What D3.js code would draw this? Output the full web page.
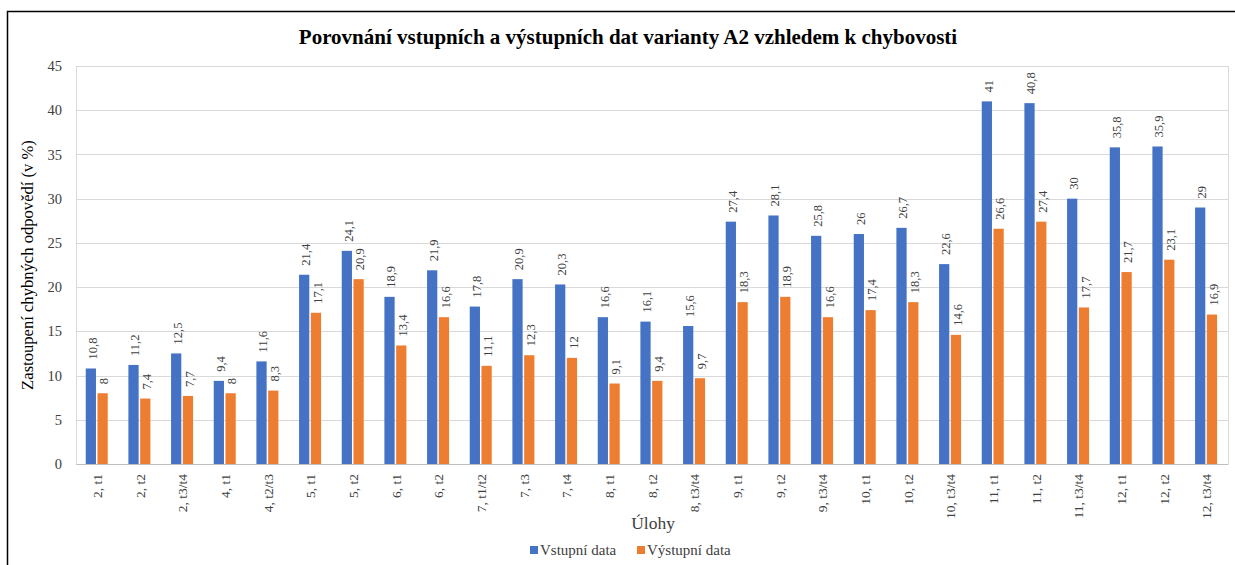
<!DOCTYPE html>
<html>
<head>
<meta charset="utf-8">
<script src="https://cdn.jsdelivr.net/npm/d3@7"></script>
<style>
  body { margin: 0; background: #fff; }
  text { font-family: "Liberation Serif", "Times New Roman", serif; fill: #404040; }
</style>
</head>
<body>
<script>
"use strict"

var categories = ["2, t1", "2, t2", "2, t3/t4", "4, t1", "4, t2/t3", "5, t1", "5, t2", "6, t1", "6, t2",
    "7, t1/t2", "7, t3", "7, t4", "8, t1", "8, t2", "8, t3/t4", "9, t1", "9, t2", "9, t3/t4",
    "10, t1", "10, t2", "10, t3/t4", "11, t1", "11, t2", "11, t3/t4", "12, t1", "12, t2", "12, t3/t4"];
var vstupni = [10.8, 11.2, 12.5, 9.4, 11.6, 21.4, 24.1, 18.9, 21.9, 17.8, 20.9, 20.3, 16.6, 16.1, 15.6,
    27.4, 28.1, 25.8, 26, 26.7, 22.6, 41, 40.8, 30, 35.8, 35.9, 29];
var vystupni = [8, 7.4, 7.7, 8, 8.3, 17.1, 20.9, 13.4, 16.6, 11.1, 12.3, 12, 9.1, 9.4, 9.7,
    18.3, 18.9, 16.6, 17.4, 18.3, 14.6, 26.6, 27.4, 17.7, 21.7, 23.1, 16.9];
var seriesNames = ["Vstupní data", "Výstupní data"];
var colors = ["#4472C4", "#ED7D31"];
var yTicks = [0, 5, 10, 15, 20, 25, 30, 35, 40, 45];

var width = 1235, height = 565;
var plot = {left: 76, right: 1228, top: 66, bottom: 464};

var svg = d3.select("body").append("svg")
    .attr("width", width)
    .attr("height", height);

// outer frame
svg.append("rect")
    .attr("x", 7.5).attr("y", 11.5)
    .attr("width", 1240).attr("height", 600)
    .attr("fill", "none").attr("stroke", "#000").attr("stroke-width", 1.5);

svg.append("text")
    .attr("x", 628).attr("y", 44)
    .attr("text-anchor", "middle")
    .attr("font-size", "21px")
    .attr("font-weight", "bold")
    .style("fill", "#000")
    .text("Porovnání vstupních a výstupních dat varianty A2 vzhledem k chybovosti");

var x = d3.scaleBand().domain(categories).range([plot.left, plot.right]);
var y = d3.scaleLinear().domain([0, 45]).range([plot.bottom, plot.top]);

// gridlines
svg.append("g").selectAll("line").data(yTicks).join("line")
    .attr("x1", plot.left).attr("x2", plot.right)
    .attr("y1", d => Math.round(y(d)) + 0.5).attr("y2", d => Math.round(y(d)) + 0.5)
    .attr("stroke", "#d9d9d9").attr("stroke-width", 1);
svg.append("line")
    .attr("x1", plot.left + 0.5).attr("x2", plot.left + 0.5)
    .attr("y1", plot.top).attr("y2", plot.bottom)
    .attr("stroke", "#d9d9d9");
svg.append("line")
    .attr("x1", plot.right + 0.5).attr("x2", plot.right + 0.5)
    .attr("y1", plot.top).attr("y2", plot.bottom)
    .attr("stroke", "#d9d9d9");

// y tick labels
var yAxis = svg.append("g")
    .attr("transform", "translate(" + (plot.left - 6) + ",0)")
    .call(d3.axisLeft(y).tickValues(yTicks).tickSize(0).tickPadding(8));
yAxis.select(".domain").remove();
yAxis.selectAll("text")
    .attr("font-family", "Liberation Serif")
    .attr("font-size", "14.5px")
    .style("fill", "#404040");

// x axis
var xAxis = svg.append("g")
    .attr("transform", "translate(0," + plot.bottom + ")")
    .call(d3.axisBottom(x).tickSize(0));
xAxis.select(".domain").attr("stroke", "#bfbfbf");
xAxis.selectAll("text")
    .attr("font-family", "Liberation Serif")
    .attr("font-size", "13.5px")
    .style("fill", "#404040")
    .attr("text-anchor", "end")
    .attr("transform", "rotate(-90)")
    .attr("x", -10).attr("y", 0).attr("dy", "0.35em");

// bars
var sub = d3.scaleBand().domain([0, 1]).range([0, 22]).paddingInner(0.13);
var offset = (x.bandwidth() - 22) / 2 - 0.6;
var series = [vstupni, vystupni];

series.forEach(function (vals, s) {
    var g = svg.append("g");
    g.selectAll("rect").data(vals).join("rect")
        .attr("x", (d, i) => x(categories[i]) + offset + sub(s))
        .attr("y", d => y(d))
        .attr("width", sub.bandwidth())
        .attr("height", d => y(0) - y(d))
        .attr("fill", colors[s]);
    g.selectAll("text").data(vals).join("text")
        .attr("transform", (d, i) => "translate(" + (x(categories[i]) + offset + sub(s) + sub.bandwidth() / 2 + 1.5) + "," + (y(d) - 9) + ") rotate(-90)")
        .attr("dy", "0.35em")
        .attr("font-family", "Liberation Sans")
        .attr("font-size", "12.5px")
        .style("fill", "#404040")
        .text(d => String(d).replace(".", ","));
});

// axis titles
svg.append("text")
    .attr("transform", "translate(33," + ((plot.top + plot.bottom) / 2) + ") rotate(-90)")
    .attr("text-anchor", "middle")
    .attr("font-size", "16.6px")
    .style("fill", "#000")
    .text("Zastoupení chybných odpovědí (v %)");

svg.append("text")
    .attr("x", 653).attr("y", 529)
    .attr("text-anchor", "middle")
    .attr("font-size", "17.5px")
    .style("fill", "#404040")
    .text("Úlohy");

// legend
var legend = svg.append("g");
var legendX = [530, 637];
seriesNames.forEach(function (name, s) {
    legend.append("rect")
        .attr("x", legendX[s]).attr("y", 546)
        .attr("width", 8).attr("height", 8)
        .attr("fill", colors[s]);
    legend.append("text")
        .attr("x", legendX[s] + 10).attr("y", 555)
        .attr("font-size", "15px")
        .style("fill", "#404040")
        .text(name);
});
</script>
</body>
</html>
